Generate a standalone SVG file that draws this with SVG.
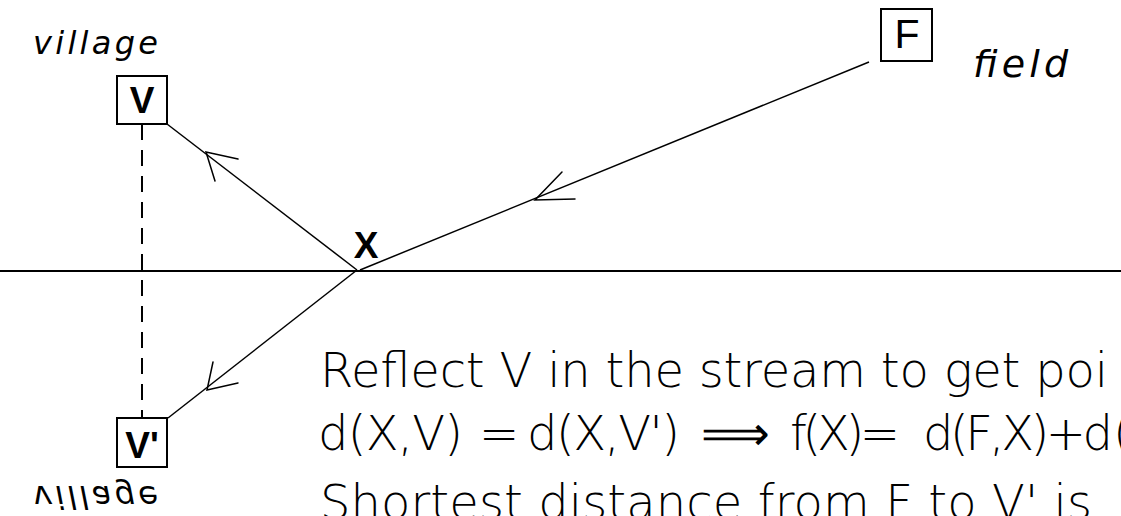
<svg xmlns="http://www.w3.org/2000/svg" width="1121" height="516" viewBox="0 0 1121 516">
<style>
.bg{fill:#fff}
.box{fill:#fff;stroke:#000;stroke-width:2}
.lbl{font-family:"Liberation Sans",Arial,sans-serif;font-weight:bold;fill:#000;text-anchor:middle}
.ital{font-family:"DejaVu Sans","Liberation Sans",sans-serif;font-weight:200;font-style:italic;fill:#000}
.main{font-family:"DejaVu Sans","Liberation Sans",sans-serif;font-weight:200;font-size:48px;fill:#000}
.ln{stroke:#000;stroke-width:1.5;fill:none}
.head{stroke:#000;stroke-width:1.5;fill:none;stroke-linecap:round}
</style>
<rect class="bg" x="0" y="0" width="1121" height="516"/>
<g id="stream">
<line x1="0" y1="271" x2="1121" y2="271" stroke="#000" stroke-width="2"/>
</g>
<g id="connectors">
<line class="ln" x1="869" y1="62" x2="360" y2="270"/>
<polyline class="head" points="562,172 535,200 575,199"/>
<line class="ln" x1="357" y1="270" x2="167" y2="124"/>
<polyline class="head" points="238,159 206,152 215,181"/>
<line class="ln" x1="357" y1="270" x2="168" y2="418"/>
<polyline class="head" points="213,362 207,390 238,383"/>
<line x1="142" y1="124" x2="142" y2="418" stroke="#000" stroke-width="2" stroke-dasharray="16 10"/>
</g>
<g id="node-V">
<rect class="box" x="117" y="76" width="50" height="48"/>
<text class="lbl" x="142" y="113" font-size="37">V</text>
</g>
<g id="node-Vp">
<rect class="box" x="117" y="418" width="50" height="49"/>
<text class="lbl" x="142" y="458" font-size="37">V'</text>
</g>
<g id="node-F">
<rect class="box" x="881" y="9" width="51" height="52"/>
<text x="907" y="48" font-size="41" text-anchor="middle" font-family="Liberation Sans, Arial, sans-serif" fill="#000">F</text>
</g>
<g id="node-X">
<text class="lbl" x="366" y="258" font-size="37">X</text>
</g>
<g id="labels">
<text class="ital" x="33" y="54" font-size="32" textLength="125" lengthAdjust="spacing">village</text>
<text class="ital" x="973" y="77" font-size="38" textLength="95" lengthAdjust="spacing">field</text>
<text class="ital" transform="translate(33,486) scale(1,-1)" x="0" y="0" font-size="32" textLength="125" lengthAdjust="spacing">village</text>
</g>
<g id="text">
<text class="main" x="320" y="387" textLength="788" lengthAdjust="spacing">Reflect V in the stream to get poi</text>
<text class="main" x="318" y="450" textLength="145" lengthAdjust="spacing">d(X,V)</text>
<text class="main" x="479" y="450">=</text>
<text class="main" x="527" y="450" textLength="153" lengthAdjust="spacing">d(X,V')</text>
<text class="main" x="701" y="450">⟹</text>
<text class="main" x="790" y="450" textLength="110" lengthAdjust="spacing">f(X)=</text>
<text class="main" x="923" y="450" textLength="190" lengthAdjust="spacing">d(F,X)+d</text>
<text class="main" x="1113" y="450">(</text>
<text class="main" x="320" y="519" textLength="772" lengthAdjust="spacing">Shortest distance from F to V' is</text>
</g>
</svg>
